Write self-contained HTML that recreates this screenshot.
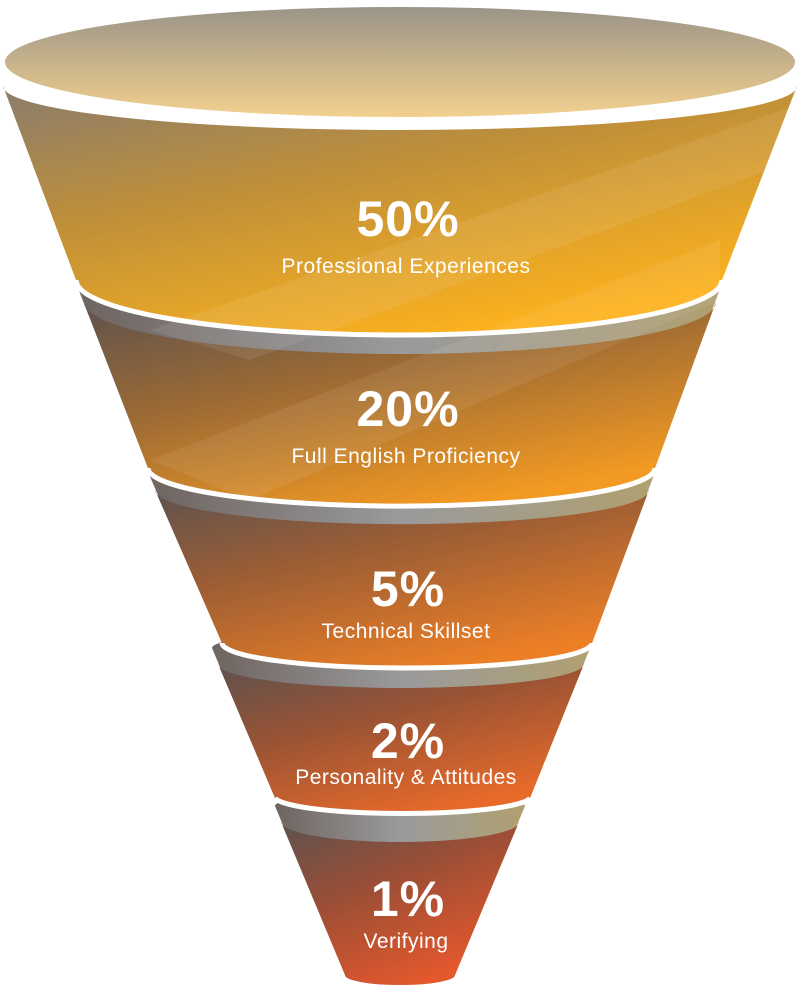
<!DOCTYPE html>
<html><head><style>
html,body{margin:0;padding:0;background:#fff;width:800px;height:989px;overflow:hidden}
svg{display:block}
text{font-family:"Liberation Sans",sans-serif;fill:#fff;text-anchor:middle}
.big{font-size:50px;font-weight:bold;letter-spacing:1px}
.lab{font-size:21px;letter-spacing:0.5px}
</style></head><body>
<svg width="800" height="989" viewBox="0 0 800 989">
<defs>
<linearGradient id="rim" x1="0" y1="0" x2="1" y2="0">
<stop offset="0" stop-color="#6e6460"/><stop offset="0.5" stop-color="#9a9a9c"/><stop offset="1" stop-color="#b0a070"/></linearGradient>
<linearGradient id="top" x1="0" y1="0" x2="0" y2="1">
<stop offset="0" stop-color="#9a9488"/><stop offset="1" stop-color="#f3d08e"/></linearGradient>
<linearGradient id="g1" x1="0" y1="0" x2="0.6" y2="1">
<stop offset="0" stop-color="#8a7c6e"/><stop offset="0.45" stop-color="#c09038"/><stop offset="1" stop-color="#fdb21e"/></linearGradient>
<linearGradient id="g2" x1="0" y1="0" x2="0.6" y2="1">
<stop offset="0" stop-color="#5e524e"/><stop offset="0.45" stop-color="#9c6a34"/><stop offset="1" stop-color="#f39a22"/></linearGradient>
<linearGradient id="g3" x1="0" y1="0" x2="0.6" y2="1">
<stop offset="0" stop-color="#5e524e"/><stop offset="0.45" stop-color="#9e5e34"/><stop offset="1" stop-color="#ec7f26"/></linearGradient>
<linearGradient id="g4" x1="0" y1="0" x2="0.6" y2="1">
<stop offset="0" stop-color="#5e524e"/><stop offset="0.45" stop-color="#9a5334"/><stop offset="1" stop-color="#e86a2a"/></linearGradient>
<linearGradient id="g5" x1="0" y1="0" x2="0.6" y2="1">
<stop offset="0" stop-color="#5e524e"/><stop offset="0.45" stop-color="#9a4e36"/><stop offset="1" stop-color="#e5582c"/></linearGradient>
</defs>

<path d="M275,806 A125,14 0 0 1 525,806 L455,975 A55,10 0 0 1 345,975 Z" fill="url(#rim)"/>
<path d="M281,822 A119,20 0 0 0 519,822 L455,975 A55,10 0 0 1 345,975 Z" fill="url(#g5)"/>
<path d="M212,648 A189,18 0 0 1 590,648 L530,798 A128,17 0 0 1 275,798 Z" fill="url(#rim)"/>
<path d="M218,664 A183,24 0 0 0 584,664 L530,798 A128,17 0 0 1 275,798 Z" fill="url(#g4)"/>
<path d="M275,798 A128,17 0 0 0 530,798" fill="none" stroke="#fff" stroke-width="5"/>
<path d="M148,472 A253,25 0 0 1 655,472 L592,643 A185,25 0 0 1 222,643 Z" fill="url(#rim)"/>
<path d="M155,490 A246,34 0 0 0 649,490 L592,643 A185,25 0 0 1 222,643 Z" fill="url(#g3)"/>
<path d="M222,643 A185,25 0 0 0 592,643" fill="none" stroke="#fff" stroke-width="5"/>
<path d="M76,283 A323,40 0 0 1 722,283 L655,468 A253,38 0 0 1 148,468 Z" fill="url(#rim)"/>
<path d="M84,302 A316,52 0 0 0 716,302 L655,468 A253,38 0 0 1 148,468 Z" fill="url(#g2)"/>
<path d="M148,468 A253,38 0 0 0 655,468" fill="none" stroke="#fff" stroke-width="5"/>
<path d="M3,86 A397,44 0 0 0 797,86 L722,280 A323,55 0 0 1 76,280 Z" fill="url(#g1)"/>
<path d="M76,280 A323,55 0 0 0 722,280" fill="none" stroke="#fff" stroke-width="5"/>
<polygon points="150,330 797,105 797,160 250,360" fill="#fff" opacity="0.08"/>
<polygon points="150,460 720,240 720,300 250,500" fill="#fff" opacity="0.07"/>
<ellipse cx="400" cy="62" rx="395" ry="55" fill="url(#top)"/>

<text class="big" x="408" y="236">50%</text>
<text class="lab" x="406" y="273">Professional Experiences</text>
<text class="big" x="408" y="426">20%</text>
<text class="lab" x="406" y="463">Full English Proficiency</text>
<text class="big" x="408" y="606">5%</text>
<text class="lab" x="406" y="638">Technical Skillset</text>
<text class="big" x="408" y="758">2%</text>
<text class="lab" x="406" y="784">Personality &amp; Attitudes</text>
<text class="big" x="408" y="916">1%</text>
<text class="lab" x="406" y="948">Verifying</text>
</svg>
</body></html>
